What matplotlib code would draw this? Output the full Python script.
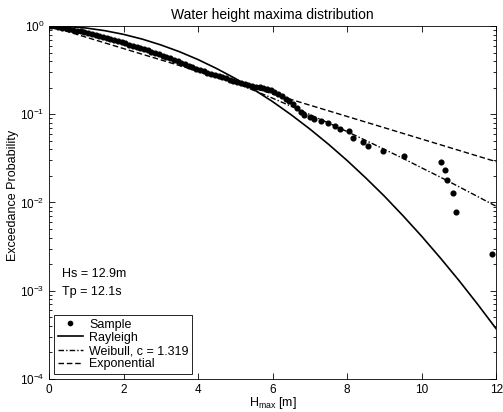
import matplotlib.pyplot as plt
import numpy as np

plt.rcParams['font.family'] = ['Liberation Sans', 'DejaVu Sans']
plt.rcParams['mathtext.default'] = 'regular'

sample_h = [0.05, 0.15, 0.25, 0.35, 0.45, 0.55, 0.65, 0.75, 0.85, 0.95,
            1.05, 1.15, 1.25, 1.35, 1.45, 1.55, 1.65, 1.75, 1.85, 1.95,
            2.05, 2.15, 2.25, 2.35, 2.45, 2.55, 2.65, 2.75, 2.85, 2.95,
            3.05, 3.15, 3.25, 3.35, 3.45, 3.55, 3.65, 3.75, 3.85, 3.95,
            4.05, 4.15, 4.25, 4.35, 4.45, 4.55, 4.65, 4.75, 4.85, 4.95,
            5.05, 5.15, 5.25, 5.35, 5.45, 5.55, 5.65, 5.75, 5.85, 5.95,
            6.05, 6.15, 6.25, 6.35, 6.45, 6.55, 6.65, 6.75, 6.85, 7.01,
            7.12, 7.30, 7.50, 7.68, 7.81, 8.06, 8.17, 8.44, 8.57, 8.97,
            9.53, 10.52, 10.63, 10.68, 10.84, 10.92, 11.90]
sample_p = [1.00, 0.99, 0.975, 0.96, 0.943, 0.925, 0.907, 0.888, 0.87, 0.852,
            0.835, 0.815, 0.795, 0.775, 0.755, 0.735, 0.715, 0.695, 0.675, 0.655,
            0.635, 0.615, 0.597, 0.58, 0.562, 0.545, 0.528, 0.51, 0.493, 0.476,
            0.46, 0.444, 0.428, 0.412, 0.397, 0.382, 0.367, 0.353, 0.34, 0.328,
            0.316, 0.305, 0.295, 0.286, 0.277, 0.269, 0.261, 0.254, 0.247, 0.24,
            0.233, 0.227, 0.221, 0.215, 0.21, 0.206, 0.202, 0.197, 0.192, 0.186,
            0.179, 0.17, 0.16, 0.15, 0.14, 0.131, 0.119, 0.107, 0.098, 0.0925,
            0.089, 0.084, 0.0791, 0.0743, 0.0682, 0.0647, 0.0544, 0.049, 0.0441, 0.0387,
            0.0337, 0.0286, 0.0234, 0.018, 0.0129, 0.0078, 0.0026]

# Fitted curves
curve_h = [0, 0.5, 1, 1.5, 2, 2.5, 3, 3.5, 4, 4.5, 5, 5.5, 6,
           6.5, 7, 7.5, 8, 8.5, 9, 9.5, 10, 10.5, 11, 11.5, 12]
rayleigh_p = [1.0, 0.986, 0.947, 0.884, 0.803, 0.710, 0.610, 0.511, 0.416,
              0.329, 0.254, 0.190, 0.139, 0.0985, 0.0680, 0.0457, 0.0299,
              0.0190, 0.0118, 0.00708, 0.00415, 0.00236, 0.00131, 0.000706,
              0.000371]
weibull_p = [1.0, 0.931, 0.838, 0.739, 0.642, 0.552, 0.470, 0.396, 0.331,
             0.275, 0.227, 0.186, 0.152, 0.123, 0.0993, 0.0796, 0.0636,
             0.0505, 0.0400, 0.0316, 0.0247, 0.0194, 0.0151, 0.0117, 0.00906]
expo_h = [0, 3, 6, 9, 12]
expo_p = [1.0, 0.413, 0.170, 0.0703, 0.0290]

fig = plt.figure(figsize=(5.03, 4.12), dpi=100)
ax = fig.add_axes([0.0974, 0.080, 0.889, 0.857])

ax.semilogy(sample_h, sample_p, 'o', color='black', markersize=3.4, label='Sample')
ax.semilogy(curve_h, rayleigh_p, '-', color='black', lw=1.2, label='Rayleigh')
ax.semilogy(curve_h, weibull_p, color='black', lw=1.0,
            linestyle=(0, (4, 1.5, 1, 1.5)), label='Weibull, c = 1.319')
ax.semilogy(expo_h, expo_p, color='black', lw=1.0,
            linestyle=(0, (4, 2)), label='Exponential')

ax.set_xlim(0, 12)
ax.set_ylim(1e-4, 1)
ax.set_xticks([0, 2, 4, 6, 8, 10, 12])
ax.tick_params(which='both', direction='in', top=True, right=True,
               labelsize=8.5, width=0.6)
ax.tick_params(which='major', length=4)
ax.tick_params(which='minor', length=2)
for s in ax.spines.values():
    s.set_linewidth(0.6)

ax.set_title('Water height maxima distribution', fontsize=10, pad=5)
ax.set_xlabel('H$_{max}$ [m]', fontsize=9, labelpad=-1)
ax.set_ylabel('Exceedance Probability', fontsize=9)
ax.yaxis.set_label_coords(-0.066, 0.52)

# wave parameters
ax.text(0.029, 0.297, 'Hs = 12.9m', transform=ax.transAxes, fontsize=9, va='center')
ax.text(0.029, 0.246, 'Tp = 12.1s', transform=ax.transAxes, fontsize=9, va='center')

leg = ax.legend(loc='lower left', bbox_to_anchor=(0.011, 0.014), borderaxespad=0,
                fontsize=9, fancybox=False, framealpha=1, edgecolor='black',
                handlelength=2.0, handletextpad=0.5, labelspacing=0.1,
                borderpad=0.3, markerscale=0.9)
leg.get_frame().set_linewidth(0.6)

plt.savefig('out.png', dpi=100)
